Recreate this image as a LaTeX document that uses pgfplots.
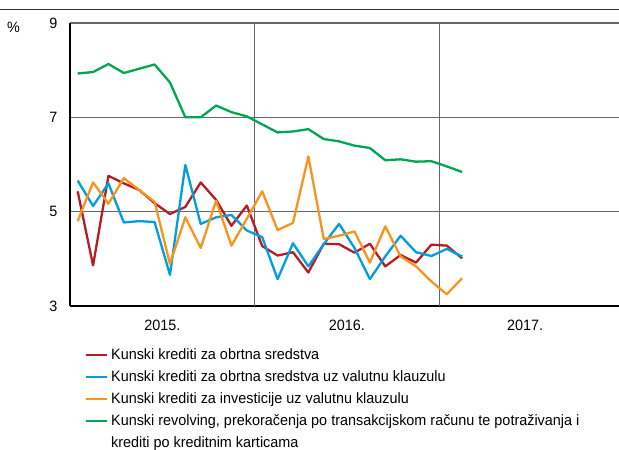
\documentclass[border=0pt]{standalone}
\usepackage{pgfplots}
\pgfplotsset{compat=1.18}
\usepackage{pgfplotstable}
\usepackage{fontspec}
\setmainfont{Liberation Sans}[FakeStretch=0.96]

\definecolor{cred}{HTML}{B71C24}
\definecolor{cblue}{HTML}{009EDB}
\definecolor{corange}{HTML}{F7941D}
\definecolor{cgreen}{HTML}{00A651}
\definecolor{cgrid}{HTML}{666666}

\newcommand{\chfont}{\fontsize{15}{17}\selectfont}

% monthly rates, Jan 2015 - Feb 2017 (x = month index + 0.5)
\pgfplotstableread{
x    red  blue orange green
0.5  5.43 5.66 4.80 7.93
1.5  3.86 5.12 5.62 7.96
2.5  5.76 5.60 5.17 8.13
3.5  5.60 4.77 5.71 7.94
4.5  5.46 4.80 5.46 8.03
5.5  5.18 4.78 5.21 8.12
6.5  4.95 3.66 3.89 7.74
7.5  5.10 5.99 4.88 7.00
8.5  5.62 4.74 4.23 7.00
9.5  5.25 4.88 5.23 7.25
10.5 4.70 4.93 4.28 7.11
11.5 5.13 4.60 4.85 7.02
12.5 4.27 4.46 5.43 6.85
13.5 4.07 3.57 4.61 6.68
14.5 4.14 4.33 4.76 6.70
15.5 3.71 3.84 6.17 6.75
16.5 4.32 4.31 4.42 6.54
17.5 4.31 4.74 4.49 6.49
18.5 4.13 4.23 4.58 6.40
19.5 4.32 3.57 3.92 6.35
20.5 3.84 4.05 4.69 6.09
21.5 4.08 4.49 4.05 6.11
22.5 3.92 4.14 3.84 6.06
23.5 4.30 4.06 3.52 6.07
24.5 4.28 4.21 3.25 5.96
25.5 4.01 4.05 3.59 5.84
}\rates

\begin{document}
\begin{tikzpicture}
\begin{axis}[
  at={(70pt,144pt)}, anchor=south west,
  scale only axis, width=549pt, height=283pt,
  xmin=0, xmax=35.7, ymin=3, ymax=9,
  axis x line*=bottom, axis y line*=left,
  axis line style={-, black, line width=1.2pt},
  major tick length=0pt,
  xtick={6,18,29.6}, xticklabels={2015.,2016.,2017.},
  extra x ticks={12,24}, extra x tick labels={},
  extra x tick style={grid=major},
  ytick={3,5,7,9},
  ymajorgrids,
  major grid style={cgrid, line width=1.1pt},
  /pgf/number format/assume math mode=true,
  tick label style={font=\chfont},
  yticklabel style={xshift=-9pt},
  xticklabel style={yshift=-10pt},
  legend cell align=left,
  legend style={at={(axis description cs:0.026,-0.145)}, anchor=north west,
    draw=none, fill=none, inner sep=0pt, font=\chfont, row sep=7pt,
    nodes={text height=12pt, text depth=3pt, inner ysep=0pt, inner xsep=3.5pt}},
  legend image code/.code={\draw[#1, line width=2.2pt] (0pt,0pt) -- (21pt,0pt);},
  every axis plot/.append style={line width=2.3pt, line join=round},
]
\addplot[cred] table[x=x, y=red] {\rates};
\addlegendentry{Kunski krediti za obrtna sredstva}
\addplot[cblue] table[x=x, y=blue] {\rates};
\addlegendentry{Kunski krediti za obrtna sredstva uz valutnu klauzulu}
\addplot[corange] table[x=x, y=orange] {\rates};
\addlegendentry{Kunski krediti za investicije uz valutnu klauzulu}
\addplot[cgreen] table[x=x, y=green] {\rates};
\addlegendentry{Kunski revolving, prekoračenja po transakcijskom računu te potraživanja i}
\addlegendimage{empty legend}
\addlegendentry{krediti po kreditnim karticama}
\end{axis}
\draw[black!80, line width=1pt] (0pt,440.5pt) -- (619pt,440.5pt);
\node[font=\chfont, anchor=center] at (13.5pt,423pt) {\%};
\pgfresetboundingbox
\path[use as bounding box] (0pt,0pt) rectangle (619pt,450pt);
\end{tikzpicture}
\end{document}
